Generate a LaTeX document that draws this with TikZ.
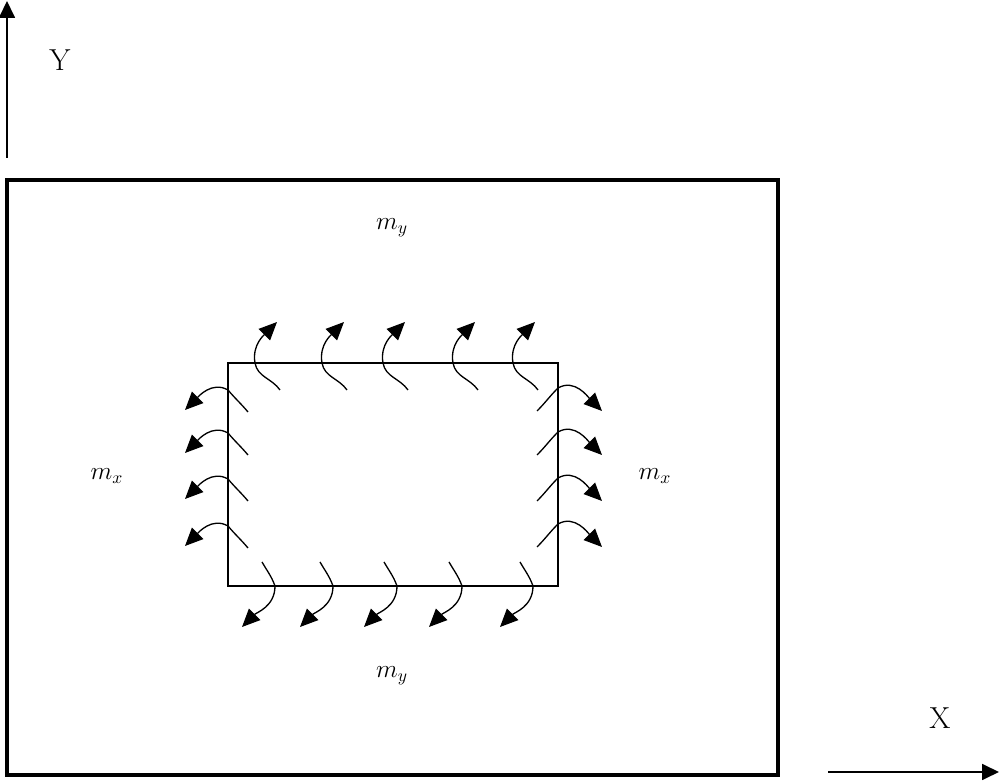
\documentclass[tikz,border=0pt]{standalone}
\usetikzlibrary{arrows.meta}
\tikzset{%
    plate/.style={line width=2.3pt},
    hole/.style={line width=0.8pt},
    moment/.style={-{Triangle[length=0.36cm,width=0.32cm]},line width=0.75pt},
    axis/.style={-{Triangle[length=0.34cm,width=0.32cm]},line width=1pt},
    mlabel/.style={font=\Large,inner sep=0pt},
    axlabel/.style={font=\LARGE,inner sep=0pt},
}
\begin{document}
\begin{tikzpicture}
        \useasboundingbox (0,0) rectangle (20,15.62);
        % axes
        \draw[axis] (0.14,12.46) -- (0.14,15.60);
        \node[axlabel] (ylab) at (1.2,14.42) {Y};
        \draw[axis] (16.56,0.18) -- (19.98,0.18);
        \node[axlabel] (xlab) at (18.8,1.26) {X};

        % plate and hole
        \draw[plate] (0.14,0.12) rectangle (15.56,12.02);
        \draw[hole] (4.56,3.90) rectangle (11.16,8.36);

        % moments on the upper edge
        \draw[moment] (5.60,7.82) to[out=125,in=-80] ++(-0.50,0.54) to[out=100,in=-135] ++(0.44,0.82);
        \draw[moment] (6.94,7.82) to[out=125,in=-80] ++(-0.50,0.54) to[out=100,in=-135] ++(0.44,0.82);
        \draw[moment] (8.16,7.82) to[out=125,in=-80] ++(-0.50,0.54) to[out=100,in=-135] ++(0.44,0.82);
        \draw[moment] (9.56,7.82) to[out=125,in=-80] ++(-0.50,0.54) to[out=100,in=-135] ++(0.44,0.82);
        \draw[moment] (10.76,7.82) to[out=125,in=-80] ++(-0.50,0.54) to[out=100,in=-135] ++(0.44,0.82);

        % moments on the lower edge
        \draw[moment] (5.24,4.38) to[out=-60,in=110] ++(0.26,-0.48) to[out=-90,in=45] ++(-0.66,-0.82);
        \draw[moment] (6.40,4.38) to[out=-60,in=110] ++(0.26,-0.48) to[out=-90,in=45] ++(-0.66,-0.82);
        \draw[moment] (7.68,4.38) to[out=-60,in=110] ++(0.26,-0.48) to[out=-90,in=45] ++(-0.66,-0.82);
        \draw[moment] (8.98,4.38) to[out=-60,in=110] ++(0.26,-0.48) to[out=-90,in=45] ++(-0.66,-0.82);
        \draw[moment] (10.40,4.38) to[out=-60,in=110] ++(0.26,-0.48) to[out=-90,in=45] ++(-0.66,-0.82);

        % moments on the left edge
        \draw[moment] (4.96,7.38) to[out=130,in=-50] ++(-0.40,0.44) to[out=150,in=45] ++(-0.86,-0.40);
        \draw[moment] (4.96,6.52) to[out=130,in=-50] ++(-0.40,0.44) to[out=150,in=45] ++(-0.86,-0.40);
        \draw[moment] (4.96,5.60) to[out=130,in=-50] ++(-0.40,0.44) to[out=150,in=45] ++(-0.86,-0.40);
        \draw[moment] (4.96,4.66) to[out=130,in=-50] ++(-0.40,0.44) to[out=150,in=45] ++(-0.86,-0.40);

        % moments on the right edge
        \draw[moment] (10.74,7.40) to[out=45,in=-135] ++(0.42,0.46) to[out=30,in=135] ++(0.88,-0.46);
        \draw[moment] (10.74,6.52) to[out=45,in=-135] ++(0.42,0.46) to[out=30,in=135] ++(0.88,-0.46);
        \draw[moment] (10.74,5.60) to[out=45,in=-135] ++(0.42,0.46) to[out=30,in=135] ++(0.88,-0.46);
        \draw[moment] (10.74,4.68) to[out=45,in=-135] ++(0.42,0.46) to[out=30,in=135] ++(0.88,-0.46);

        \node[mlabel] (mytop) at (7.84,11.06) {$m_y$};
        \node[mlabel] (mybot) at (7.84,2.10) {$m_y$};
        \node[mlabel] (mxleft) at (2.14,6.10) {$m_x$};
        \node[mlabel] (mxright) at (13.10,6.10) {$m_x$};
      \end{tikzpicture}
\end{document}
